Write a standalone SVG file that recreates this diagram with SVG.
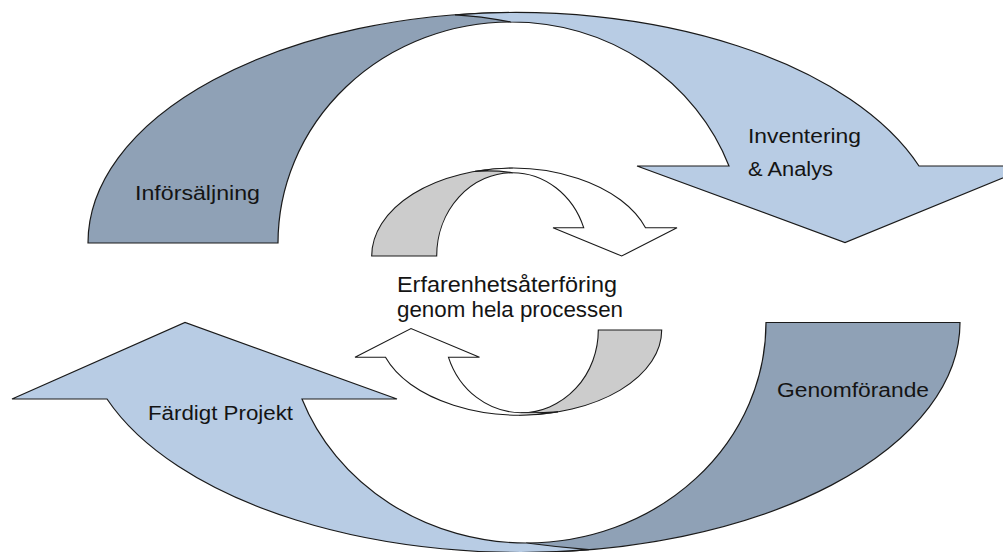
<svg xmlns="http://www.w3.org/2000/svg" width="1003" height="552" viewBox="0 0 1003 552">
<style>
.dark{fill:#8FA1B6;stroke:#1a1a1a;stroke-width:1.2;stroke-linejoin:miter}
.light{fill:#B8CCE4;stroke:#1a1a1a;stroke-width:1.2;stroke-linejoin:miter}
.gray{fill:#CCCCCC;stroke:#1a1a1a;stroke-width:1.1}
.white{fill:#FFFFFF;stroke:#1a1a1a;stroke-width:1.1}
.lbl{font-family:"Liberation Sans",Arial,sans-serif;font-size:20px;fill:#141414}
.mid{font-family:"Liberation Sans",Arial,sans-serif;font-size:22px;fill:#141414}
</style>
<rect width="1003" height="552" fill="#ffffff"/>
<g id="connectors">
<path class="dark" d="M88,243 A427.8,230.5 0 0,1 515.8,12.5 L510.8,22 A232.8,221 0 0,0 278,243 Z"/>
<path class="light" d="M455,14.8 A427.8,230.5 0 0,1 919,166 L1032,166 L845,242.5 L637,166 L729,166 A232.8,221 0 0,0 510.8,22 Q480,16 455,14.8 Z"/>
<path class="dark" d="M960,322.5 A438.8,230 0 0,1 521.2,552.5 L526.6,543 A239.4,220.5 0 0,0 766,322.5 Z"/>
<path class="light" d="M589,549.7 A438.8,230 0 0,1 107,399 L12,399 L185,322.5 L397,399 L302,399 A239.4,220.5 0 0,0 526.6,543 Q557,547 589,549.7 Z"/>
<path class="gray" d="M371.7,256 A140.6,87.7 0 0,1 512.3,168.3 L512.4,172.7 A75.7,83.3 0 0,0 436.7,256 Z"/>
<path class="white" d="M475,171.4 A140.6,87.7 0 0,1 645.5,227.7 L677,227.7 L621.7,256 L553,227.7 L583.7,227.7 A75.7,83.3 0 0,0 512.4,172.7 Q494,170 475,171.4 Z"/>
<path class="gray" d="M661.7,330 A141.9,85 0 0,1 519.8,415 L521.2,412.7 A77.1,82.7 0 0,0 598.3,330 Z"/>
<path class="white" d="M558,411.9 A141.9,85 0 0,1 385.5,357.3 L355,357.3 L411,328.5 L479.5,357.3 L448.5,357.3 A77.1,82.7 0 0,0 521.2,412.7 Q540,413 558,411.9 Z"/>
</g>
<g id="n-inforsaljning"><text class="lbl" x="135" y="200" textLength="125" lengthAdjust="spacingAndGlyphs">Införsäljning</text></g>
<g id="n-inventering"><text class="lbl" x="748" y="143" textLength="113" lengthAdjust="spacingAndGlyphs">Inventering</text><text class="lbl" x="748" y="176" textLength="85" lengthAdjust="spacingAndGlyphs">&amp; Analys</text></g>
<g id="n-genomforande"><text class="lbl" x="777" y="397" textLength="152" lengthAdjust="spacingAndGlyphs">Genomförande</text></g>
<g id="n-fardigt"><text class="lbl" x="148" y="420" textLength="145" lengthAdjust="spacingAndGlyphs">Färdigt Projekt</text></g>
<g id="n-erfarenhet"><text class="mid" x="397" y="292" textLength="220" lengthAdjust="spacingAndGlyphs">Erfarenhetsåterföring</text><text class="mid" x="397" y="316.5" textLength="226" lengthAdjust="spacingAndGlyphs">genom hela processen</text></g>
</svg>
